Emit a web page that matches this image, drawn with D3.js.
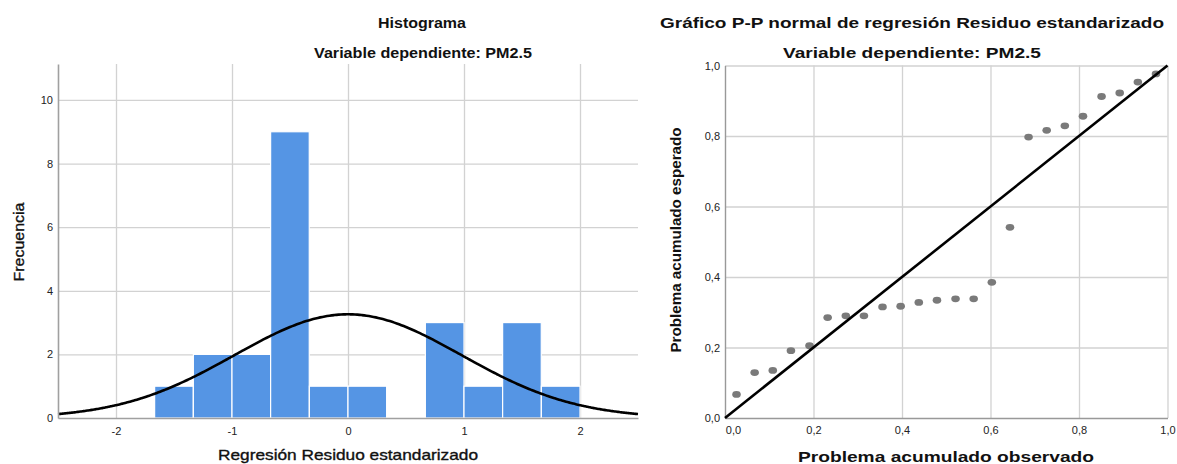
<!DOCTYPE html>
<html>
<head>
<meta charset="utf-8">
<script src="https://cdn.jsdelivr.net/npm/d3@7"></script>
<style>
  body { margin: 0; background: #fff; }
  svg { display: block; font-family: "Liberation Sans", Arial, sans-serif; }
  .tick text { fill: #222; font-size: 11px; font-family: "Liberation Sans", Arial, sans-serif; }
  .grid line { stroke: #d2d2d2; stroke-width: 1.3; }
  .grid .domain { display: none; }
</style>
</head>
<body>
<svg id="canvas"></svg>
<script>
// histogram of standardized residuals
let binLow = [-1.667, -1.333, -1.0, -0.667, -0.333, 0.0, 0.333, 0.667, 1.0, 1.333, 1.667]
let binCount = [1, 2, 2, 9, 1, 1, 0, 3, 1, 3, 1]
let binWidth = 0.333
let curveMean = 0
let curveSd = 0.978
let curveN = 24
let histXTicks = [-2, -1, 0, 1, 2]
let histYTicks = [0, 2, 4, 6, 8, 10]

// P-P plot
let ppObserved = [0.026, 0.067, 0.108, 0.149, 0.191, 0.232, 0.273, 0.314, 0.356, 0.397, 0.438, 0.479,
                  0.521, 0.562, 0.603, 0.644, 0.686, 0.727, 0.768, 0.809, 0.851, 0.892, 0.933, 0.974]
let ppExpected = [0.067, 0.129, 0.135, 0.191, 0.205, 0.285, 0.290, 0.290, 0.315, 0.317, 0.328, 0.334,
                  0.338, 0.338, 0.385, 0.541, 0.797, 0.816, 0.829, 0.856, 0.912, 0.922, 0.953, 0.976]
let ppTicks = [0, 0.2, 0.4, 0.6, 0.8, 1.0]

let width = 1177
let height = 464

let canvas = d3.select("#canvas")
canvas.attr("width", width).attr("height", height)

let comma = d3.formatLocale({decimal: ",", thousands: ".", grouping: [3], currency: ["", ""], minus: "-"}).format(".1f")

let addText = (x, y, str, size, weight, len, rotate) => {
  let t = canvas.append("text")
    .attr("x", x).attr("y", y)
    .attr("text-anchor", "middle")
    .attr("font-size", size + "px")
    .attr("font-weight", weight)
    .attr("fill", "#111")
    .attr("textLength", len)
    .attr("lengthAdjust", "spacingAndGlyphs")
    .text(str)
  if (rotate) t.attr("transform", `rotate(-90, ${x}, ${y})`)
  return t
}

// ---------- histogram ----------
let hx = d3.scaleLinear().domain([-2.5, 2.5]).range([58, 638])
let hy = d3.scaleLinear().domain([0, 11.13]).range([418, 64])

canvas.append("g").attr("class", "grid")
  .attr("transform", "translate(0,418)")
  .call(d3.axisBottom(hx).tickValues(histXTicks).tickSize(-(418 - 64)).tickFormat(""))
canvas.append("g").attr("class", "grid")
  .attr("transform", "translate(58,0)")
  .call(d3.axisLeft(hy).tickValues(histYTicks.slice(1)).tickSize(-(638 - 58)).tickFormat(""))

canvas.append("g")
  .selectAll("rect")
  .data(binLow)
  .enter().append("rect")
  .attr("x", (d) => hx(d))
  .attr("y", (d, i) => hy(binCount[i]))
  .attr("width", hx(binWidth) - hx(0))
  .attr("height", (d, i) => hy(0) - hy(binCount[i]))
  .attr("fill", "#5595e4")
  .attr("stroke", "#fff")
  .attr("stroke-width", 1.2)

// fitted normal curve
let curveX = d3.range(-2.5, 2.501, 0.02)
let density = (x) => curveN * binWidth / (curveSd * Math.sqrt(2 * Math.PI)) *
  Math.exp(-0.5 * Math.pow((x - curveMean) / curveSd, 2))
canvas.append("path")
  .datum(curveX)
  .attr("fill", "none")
  .attr("stroke", "#000")
  .attr("stroke-width", 2.6)
  .attr("d", d3.line().x((d) => hx(d)).y((d) => hy(density(d))).curve(d3.curveBasis))

let hxAxis = canvas.append("g")
  .attr("transform", "translate(0,418)")
  .call(d3.axisBottom(hx).tickValues(histXTicks).tickSize(0).tickPadding(9).tickFormat((d) => String(d)))
hxAxis.select(".domain").attr("stroke", "#a0a0a0").attr("stroke-width", 1.4)

let hyAxis = canvas.append("g")
  .attr("transform", "translate(58,0)")
  .call(d3.axisLeft(hy).tickValues(histYTicks).tickSize(0).tickPadding(5))
hyAxis.select(".domain").attr("stroke", "#a0a0a0").attr("stroke-width", 1.6)

addText(422, 28, "Histograma", 14, "bold", 88)
addText(423, 58, "Variable dependiente: PM2.5", 14, "bold", 218)
addText(348, 460, "Regresión Residuo estandarizado", 15, "normal", 260)
  .attr("stroke", "#111").attr("stroke-width", 0.35)
addText(24, 242, "Frecuencia", 15, "normal", 79, true)
  .attr("stroke", "#111").attr("stroke-width", 0.35)

// ---------- P-P plot ----------
let px = d3.scaleLinear().domain([0, 1]).range([725, 1167.5])
let py = d3.scaleLinear().domain([0, 1]).range([418, 65.5])

canvas.append("g").attr("class", "grid")
  .attr("transform", "translate(0,418)")
  .call(d3.axisBottom(px).tickValues(ppTicks.slice(1)).tickSize(-(418 - 65.5)).tickFormat(""))
canvas.append("g").attr("class", "grid")
  .attr("transform", "translate(725,0)")
  .call(d3.axisLeft(py).tickValues(ppTicks.slice(1)).tickSize(-(1167.5 - 725)).tickFormat(""))

let pxAxis = canvas.append("g")
  .attr("transform", "translate(0,418)")
  .call(d3.axisBottom(px).tickValues(ppTicks).tickSize(0).tickPadding(8).tickFormat(comma))
pxAxis.select(".domain").attr("stroke", "#999").attr("stroke-width", 1.4)
pxAxis.selectAll(".tick text").attr("dx", (d) => d > 0 ? 0 : 8)

let pyAxis = canvas.append("g")
  .attr("transform", "translate(725,0)")
  .call(d3.axisLeft(py).tickValues(ppTicks).tickSize(0).tickPadding(5).tickFormat(comma))
pyAxis.select(".domain").attr("stroke", "#999").attr("stroke-width", 1.4)

canvas.append("g")
  .selectAll("ellipse")
  .data(ppObserved)
  .enter().append("ellipse")
  .attr("cx", (d) => px(d))
  .attr("cy", (d, i) => py(ppExpected[i]))
  .attr("rx", 4.3)
  .attr("ry", 3.4)
  .attr("fill", "#7a7a7a")

canvas.append("line")
  .attr("x1", px(0)).attr("y1", py(0))
  .attr("x2", px(1)).attr("y2", py(1))
  .attr("stroke", "#000")
  .attr("stroke-width", 2.6)

addText(912, 28, "Gráfico P-P normal de regresión Residuo estandarizado", 15, "bold", 504)
addText(912, 58, "Variable dependiente: PM2.5", 15, "bold", 258)
addText(946, 462, "Problema acumulado observado", 15, "bold", 296)
addText(681, 240, "Problema acumulado esperado", 15, "bold", 225, true)
</script>
</body>
</html>
